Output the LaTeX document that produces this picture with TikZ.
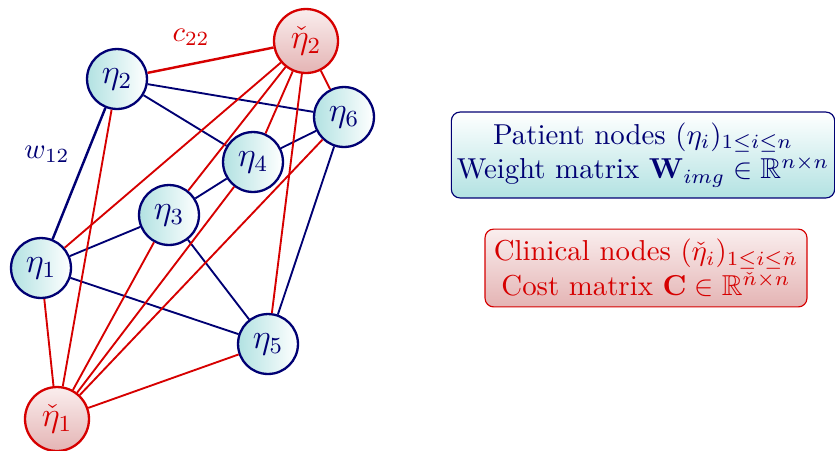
\documentclass[tikz,border=0pt]{standalone}
\usepackage{amsmath,amssymb}
\definecolor{navyc}{rgb}{0,0,0.45}
\definecolor{redc}{rgb}{0.84,0,0}
\definecolor{tealc}{RGB}{178,226,226}
\definecolor{pinkc}{RGB}{228,180,180}
\definecolor{pinktop}{RGB}{250,238,238}
\begin{document}
\begin{tikzpicture}[x=0.347pt,y=-0.347pt,
  pnode/.style={circle,draw=navyc,line width=0.8pt,minimum size=20.8pt,inner sep=0pt,
    left color=tealc,right color=white,text=navyc,font=\large},
  cnode/.style={circle,draw=redc,line width=0.8pt,minimum size=22.2pt,inner sep=0pt,
    top color=pinktop,bottom color=pinkc,text=redc,font=\large},
  bedge/.style={draw=navyc,line width=0.65pt},
  redge/.style={draw=redc,line width=0.65pt},
  bbox/.style={draw=navyc,line width=0.4pt,rounded corners=3pt,top color=white,bottom color=tealc,
    text=navyc,align=center,inner sep=0pt},
  rbox/.style={draw=redc,line width=0.4pt,rounded corners=3pt,top color=pinktop,bottom color=pinkc,
    text=redc,align=center,inner sep=0pt}]
\useasboundingbox (0,0) rectangle (835,450);
% nodes
\node[pnode] (e2) at (117,79) {$\eta_2$};
\node[pnode] (e6) at (344,117) {$\eta_6$};
\node[pnode] (e4) at (253,162) {$\eta_4$};
\node[pnode] (e3) at (169,215) {$\eta_3$};
\node[pnode] (e1) at (41,268) {$\eta_1$};
\node[pnode] (e5) at (268,344) {$\eta_5$};
\node[cnode] (c2) at (306,41) {$\check{\eta}_2$};
\node[cnode] (c1) at (57,419) {$\check{\eta}_1$};
% blue edges
\draw[bedge,line width=0.85pt] (e2) -- (e1);
\draw[bedge] (e2) -- (e4);
\draw[bedge] (e2) -- (e6);
\draw[bedge] (e6) -- (e4);
\draw[bedge] (e6) -- (e5);
\draw[bedge] (e4) -- (e3);
\draw[bedge] (e3) -- (e1);
\draw[bedge] (e3) -- (e5);
\draw[bedge] (e1) -- (e5);
% red edges
\draw[redge,line width=0.85pt] (c2) -- (e2);
\draw[redge] (c2) -- (e6);
\draw[redge] (c2) -- (e4);
\draw[redge] (c2) -- (e3);
\draw[redge] (c2) -- (e1);
\draw[redge] (c2) -- (e5);
\draw[redge] (c1) -- (e1);
\draw[redge] (c1) -- (e2);
\draw[redge] (c1) -- (e3);
\draw[redge] (c1) -- (e4);
\draw[redge] (c1) -- (e6);
\draw[redge] (c1) -- (e5);
% labels
\node[text=navyc] (w) at (47,154) {$w_{12}$};
\node[text=redc] (c) at (191,37) {$c_{22}$};
% boxes
\node[bbox,minimum width=133pt,minimum height=29.8pt] (pb) at (643,155)
  {Patient nodes $(\eta_i)_{1\leq i\leq n}$\\ Weight matrix $\mathbf{W}_{img}\in\mathbb{R}^{n\times n}$};
\node[rbox,minimum width=111.7pt,minimum height=27pt] (cb) at (646,268)
  {Clinical nodes $(\check{\eta}_i)_{1\leq i\leq \check{n}}$\\ Cost matrix $\mathbf{C}\in\mathbb{R}^{\check{n}\times n}$};
\end{tikzpicture}
\end{document}
